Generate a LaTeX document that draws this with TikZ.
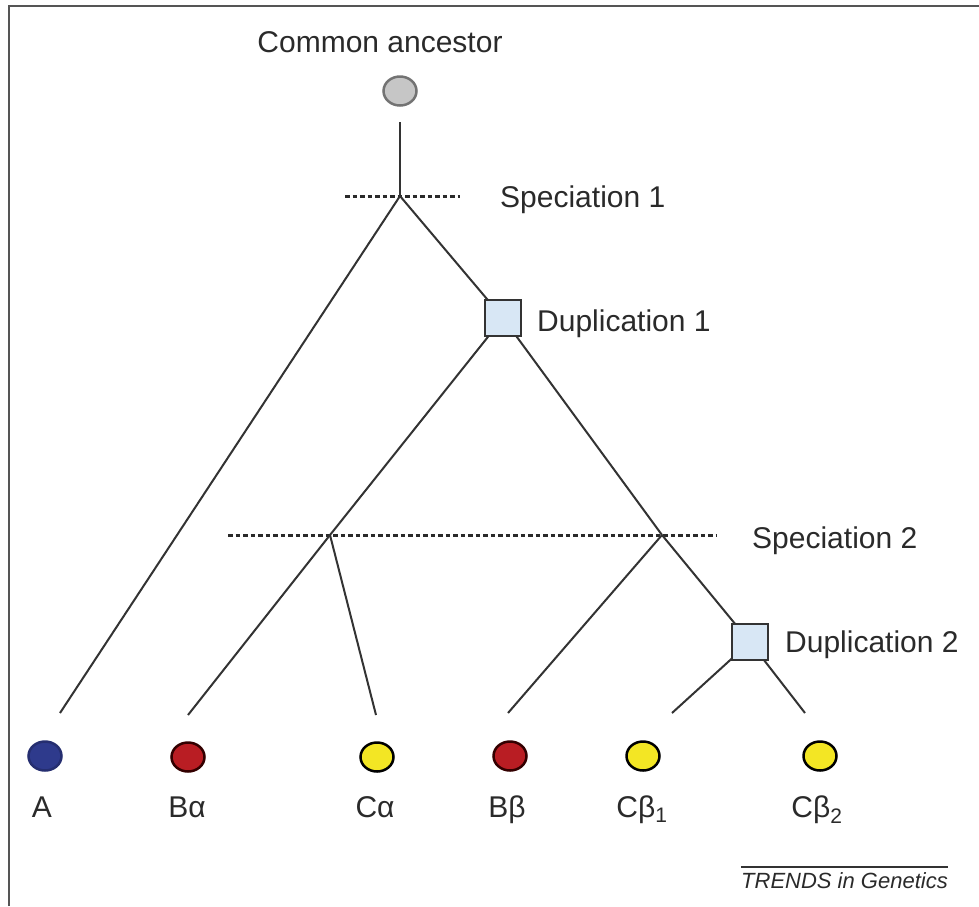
\documentclass[tikz,border=0pt]{standalone}
\usepackage{fontspec}
\setmainfont{Liberation Sans}
\usetikzlibrary{shapes.geometric}
\definecolor{ink}{HTML}{2A2A2A}
\definecolor{edge}{HTML}{333333}
\definecolor{frame}{HTML}{555555}
\definecolor{dupfill}{HTML}{D8E7F5}
\definecolor{ancfill}{HTML}{C6C6C6}
\definecolor{bluefill}{HTML}{2E3A8C}
\definecolor{redfill}{HTML}{B91D23}
\definecolor{yellowfill}{HTML}{F3E624}
\tikzset{
  branch/.style={draw=edge, line width=2pt},
  event/.style={draw=ink, line width=3pt, dash pattern=on 4.5pt off 3pt},
  dupbox/.style={draw=edge, line width=2pt, fill=dupfill, minimum size=36pt, inner sep=0pt},
  gene/.style={ellipse, minimum width=33pt, minimum height=29pt, inner sep=0pt, line width=2.5pt},
  lbl/.style={text=ink, inner sep=0pt, font=\fontsize{30}{36}\selectfont},
  leaflbl/.style={lbl, anchor=base},
}
\begin{document}
\begin{tikzpicture}[x=1pt, y=-1pt]
\useasboundingbox (0,0) rectangle (979,906);
% outer frame (only the top and left edges are inside the page)
\draw[frame, line width=2.5pt] (9,906) -- (9,6) -- (979,6);

% ancestor and event points
\node[gene, draw=black!55, fill=ancfill] (anc) at (400,91) {};
\node[lbl, anchor=base] (anclbl) at (380,52) {Common ancestor};
\coordinate (ancstem) at (400,122);
\coordinate (sp1) at (400,196);
\coordinate (sp2a) at (330,535);
\coordinate (sp2b) at (662,535);
\coordinate (s1l) at (345,196);
\coordinate (s1r) at (460,196);
\coordinate (s2l) at (228,535);
\coordinate (s2r) at (717,535);

% leaf stem ends
\coordinate (atop) at (60,713);
\coordinate (batop) at (188,715);
\coordinate (catop) at (376,715);
\coordinate (bbtop) at (508,713);
\coordinate (cb1top) at (672,713);
\coordinate (cb2top) at (805,713);

% duplication nodes (positions only; drawn after the branches)
\coordinate (d1) at (503,318);
\coordinate (d2) at (750,642);

% speciation levels
\draw[event] (s1l) -- (s1r);
\draw[event] (s2l) -- (s2r);

% branches
\draw[branch] (ancstem) -- (sp1);
\draw[branch] (sp1) -- (atop);
\draw[branch] (sp1) -- (d1);
\draw[branch] (d1) -- (sp2a);
\draw[branch] (d1) -- (sp2b);
\draw[branch] (sp2a) -- (batop);
\draw[branch] (sp2a) -- (catop);
\draw[branch] (sp2b) -- (bbtop);
\draw[branch] (sp2b) -- (d2);
\draw[branch] (d2) -- (cb1top);
\draw[branch] (d2) -- (cb2top);

% duplication boxes
\node[dupbox] (dup1) at (d1) {};
\node[dupbox] (dup2) at (d2) {};

% event labels
\node[lbl, anchor=base west] (sp1lbl) at (500,207) {Speciation 1};
\node[lbl, anchor=base west] (dup1lbl) at (537,331) {Duplication 1};
\node[lbl, anchor=base west] (sp2lbl) at (752,548) {Speciation 2};
\node[lbl, anchor=base west] (dup2lbl) at (785,652) {Duplication 2};

% extant genes
\node[gene, draw=bluefill!80!black, fill=bluefill] (A) at (45,756) {};
\node[gene, draw=black!80!red, fill=redfill] (Ba) at (188,757) {};
\node[gene, draw=black, fill=yellowfill] (Ca) at (377,757) {};
\node[gene, draw=black!80!red, fill=redfill] (Bb) at (510,756) {};
\node[gene, draw=black, fill=yellowfill] (Cb1) at (643,756) {};
\node[gene, draw=black, fill=yellowfill] (Cb2) at (820,756) {};

\node[leaflbl] (Alb) at (42,817) {A};
\node[leaflbl] (Balb) at (187,817) {Bα};
\node[leaflbl] (Calb) at (375,817) {Cα};
\node[leaflbl] (Bblb) at (507,817) {Bβ};
\node[leaflbl] (Cb1lb) at (642,817) {Cβ\textsubscript{1}};
\node[leaflbl] (Cb2lb) at (817,817) {Cβ\textsubscript{2}};

% journal mark
\node[text=ink, inner sep=0pt, anchor=base east, font=\fontsize{22}{26}\selectfont\itshape] (mark) at (948,888) {TRENDS in Genetics};
\draw[edge, line width=1.5pt] (mark.north west |- 0,867) -- (mark.north east |- 0,867);
\end{tikzpicture}
\end{document}
